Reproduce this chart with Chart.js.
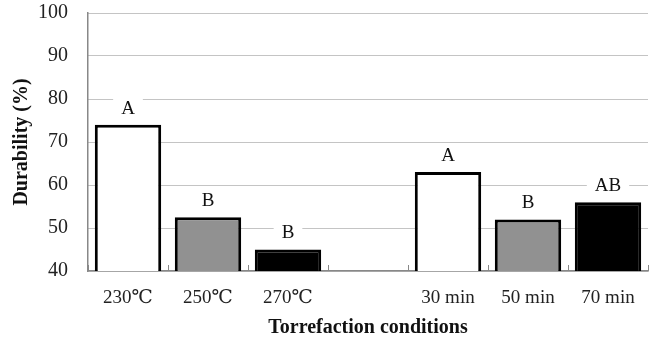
<!DOCTYPE html>
<html lang="en">
<head>
  <meta charset="UTF-8">
  <title>Durability by torrefaction conditions</title>
  <script src="https://cdn.jsdelivr.net/npm/chart.js"></script>
  <style>
    body { margin: 0; background: #fff; }
    #wrap { width: 658px; height: 344px; }
  </style>
</head>
<body>
  <div id="wrap"><canvas id="durChart" width="658" height="344"></canvas></div>
  <script>
    const categories = ['230\u2103', '250\u2103', '270\u2103', '', '30 min', '50 min', '70 min'];
    const durability = [74, 52.5, 45, null, 63, 52, 56];
    const letters = ['A', 'B', 'B', '', 'A', 'B', 'AB'];
    const barColors = ['#ffffff', '#919191', '#000000', '#ffffff', '#ffffff', '#919191', '#000000'];
    const yTicks = [40, 50, 60, 70, 80, 90, 100];

    const serif = "'Liberation Serif', 'DejaVu Serif', serif";

    // letter labels above bars, white box hides the dotted gridline behind them
    const letterPlugin = {
      id: 'letters',
      afterDatasetsDraw(chart) {
        const ctx = chart.ctx;
        const meta = chart.getDatasetMeta(0);
        ctx.save();
        ctx.font = '19px ' + serif;
        ctx.textAlign = 'center';
        ctx.textBaseline = 'middle';
        meta.data.forEach((bar, i) => {
          if (!letters[i]) return;
          const y = bar.y - 17;
          const w = ctx.measureText(letters[i]).width;
          ctx.fillStyle = '#fff';
          ctx.fillRect(bar.x - w / 2 - 8, y - 9, w + 16, 18);
          ctx.fillStyle = '#111';
          ctx.fillText(letters[i], bar.x, y + 1);
        });
        ctx.restore();
      }
    };

    // small tick marks on the x axis between categories, pointing up
    const xTickPlugin = {
      id: 'xticks',
      afterDraw(chart) {
        const x = chart.scales.x;
        const ctx = chart.ctx;
        const bottom = chart.chartArea.bottom;
        const step = x.getPixelForValue(1) - x.getPixelForValue(0);
        ctx.save();
        ctx.strokeStyle = '#888';
        ctx.lineWidth = 1;
        for (let i = 0; i <= categories.length; i++) {
          const px = Math.round(x.getPixelForValue(0) - step / 2 + i * step) + 0.5;
          ctx.beginPath();
          ctx.moveTo(px, bottom);
          ctx.lineTo(px, bottom - 6);
          ctx.stroke();
        }
        ctx.restore();
      }
    };

    new Chart(document.getElementById('durChart'), {
      type: 'bar',
      data: {
        labels: categories,
        datasets: [{
          data: durability,
          backgroundColor: barColors,
          borderColor: '#000',
          borderWidth: 3,
          borderSkipped: false,
          barPercentage: 0.83,
          categoryPercentage: 1
        }]
      },
      options: {
        responsive: false,
        animation: false,
        layout: { padding: { top: 13, right: 10, left: 0, bottom: 0 } },
        plugins: { legend: { display: false }, tooltip: { enabled: false } },
        scales: {
          x: {
            grid: { display: false },
            border: { color: '#888', width: 1.5 },
            ticks: { color: '#222', padding: 8, font: { family: serif, size: 19 } },
            title: {
              display: true,
              text: 'Torrefaction conditions',
              color: '#111',
              padding: { top: 4, bottom: 4 },
              font: { family: serif, size: 20, weight: 'bold' }
            },
            afterFit(scale) { scale.height = 73; }
          },
          y: {
            min: 40,
            max: 100,
            afterBuildTicks(scale) { scale.ticks = yTicks.map(v => ({ value: v })); },
            grid: { color: '#888', lineWidth: 1, drawTicks: false },
            border: { color: '#888', width: 1.5, dash: [1, 1] },
            ticks: { color: '#222', padding: 20, font: { family: serif, size: 20 } },
            title: {
              display: true,
              text: 'Durability (%)',
              color: '#111',
              padding: { top: 10, bottom: 4 },
              font: { family: serif, size: 20, weight: 'bold' }
            },
            afterFit(scale) {
              scale.width = 88;
              scale.paddingTop = 0;
              scale.paddingBottom = 0;
            }
          }
        }
      },
      plugins: [letterPlugin, xTickPlugin]
    });
  </script>
</body>
</html>
